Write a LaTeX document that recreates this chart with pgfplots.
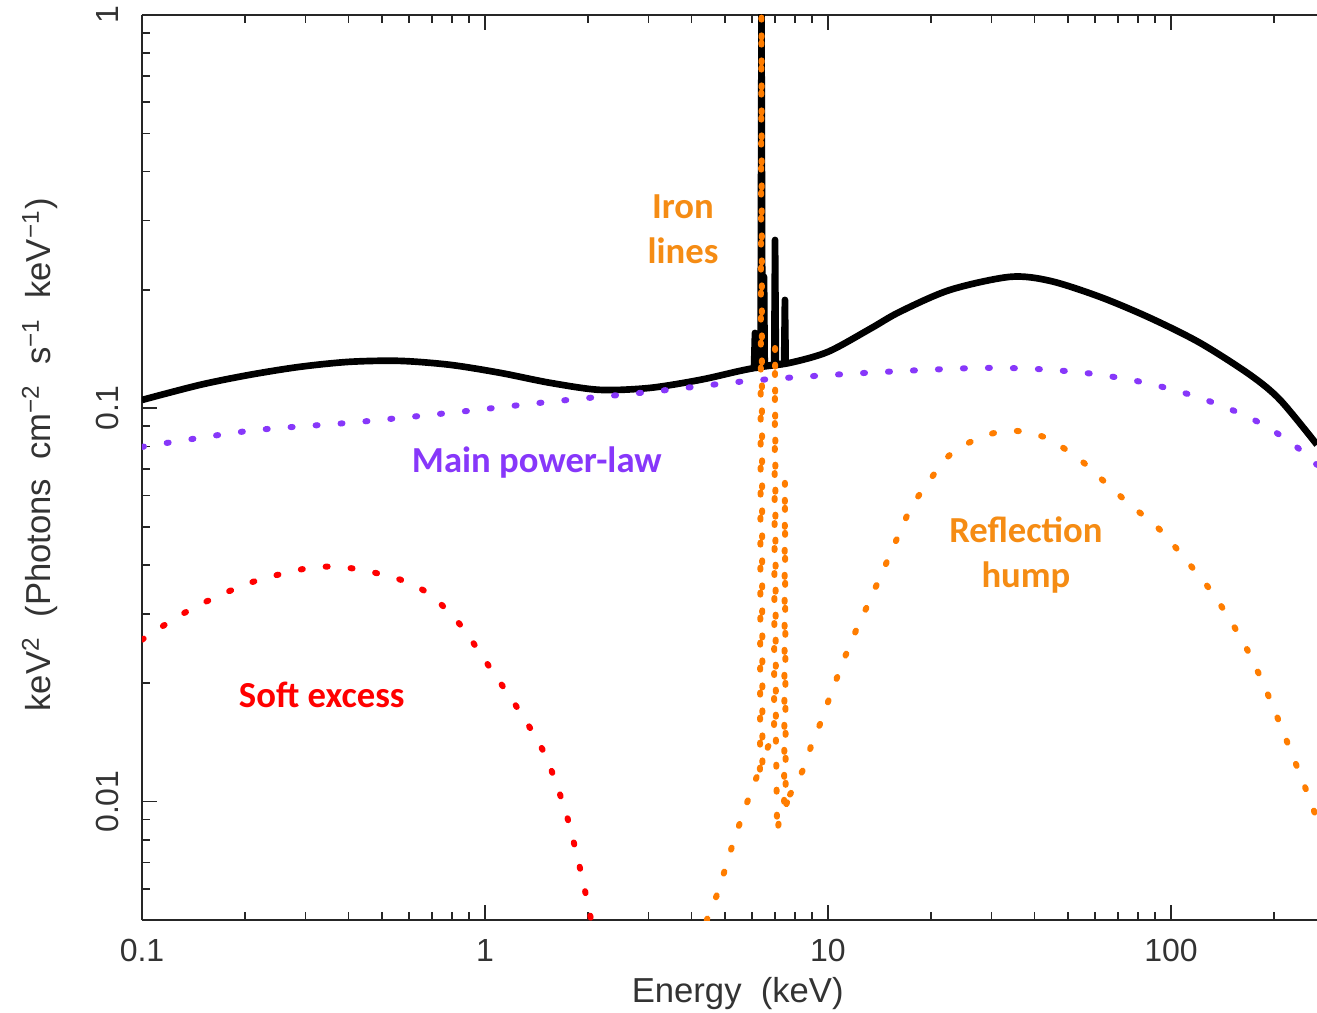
\documentclass[border=0pt]{standalone}
\usepackage{pgfplots}
\pgfplotsset{compat=1.18}
\usepackage{fontspec}
\setmainfont{Liberation Sans}
\newfontfamily\carlito{Carlito}
\definecolor{pl}{RGB}{135,55,250}
\definecolor{rx}{RGB}{255,0,0}
\definecolor{orl}{RGB}{255,125,0}
\definecolor{ort}{RGB}{245,140,20}
\tikzset{dotline/.style={line width=1.8pt, dash pattern=on 0.6pt off 6.9pt, line cap=round}}
\begin{document}
\begin{tikzpicture}
\begin{axis}[name=ax, scale only axis, width=352.5pt, height=271.5pt,
  xmode=log, ymode=log, xmin=0.1, xmax=266.5, ymin=0.005, ymax=1,
  axis x line*=box, axis y line*=left,
  axis line style={line width=0.6pt, black!85},
  tick align=inside, major tick length=4.5pt, minor tick length=2.4pt,
  every tick/.style={black!85, line width=0.5pt},
  xtick={0.1,1,10,100}, xticklabels={0.1,1,10,100},
  minor xtick={0.2,0.3,0.4,0.5,0.6,0.7,0.8,0.9,2,3,4,5,6,7,8,9,20,30,40,50,60,70,80,90,200},
  ytick={0.01,0.1,1}, yticklabels={0.01,0.1,1},
  minor ytick={0.006,0.007,0.008,0.009,0.02,0.03,0.04,0.05,0.06,0.07,0.08,0.09,0.2,0.3,0.4,0.5,0.6,0.7,0.8,0.9},
  tick label style={font=\fontsize{9.6}{11}\selectfont, text=black!80},
  yticklabel style={rotate=90, anchor=south},
  xticklabel shift=2.2pt, yticklabel shift=3.5pt,
  xlabel={Energy\ \ (keV)},
  ylabel={keV\textsuperscript{2}\ \ (Photons\ \ cm\textsuperscript{−2}\ \ s\textsuperscript{−1}\ \ keV\textsuperscript{−1})},
  label style={font=\fontsize{10.4}{12}\selectfont, text=black!80},
  xlabel style={at={(rel axis cs:0.507,-0.0807)}, anchor=center},
  ylabel style={at={(rel axis cs:-0.0868,0.514)}, anchor=center},
]
% total model: continuum
\addplot[black, line width=2pt, smooth, tension=0.5] coordinates {
(0.1,0.1050) (0.1476,0.1147) (0.2065,0.1217) (0.2888,0.1275) (0.4040,0.1313)
(0.5651,0.1320) (0.7907,0.1290) (1.106,0.1231) (1.547,0.1161) (2.164,0.1114)
(3.027,0.1127) (4.235,0.1181) (5.538,0.1245) (6.40,0.1275) (7.748,0.1305)
(10,0.1392) (13.26,0.1592) (16.21,0.1760) (22.68,0.2000) (33.93,0.2159)
(44.39,0.2109) (62.09,0.1920) (86.86,0.1698) (121.5,0.1467) (169.9,0.1217)
(207.9,0.1051) (266.5,0.0808)
};
% total model: lines
\addplot[black, line width=2pt, line join=round] coordinates {
(6.085,0.1267) (6.126,0.1555) (6.167,0.1267) (6.36,0.1275) (6.40,1.0) (6.44,0.1278)
(6.48,0.1280) (6.51,0.2159) (6.54,0.1282) (6.97,0.1290) (7.01,0.268) (7.05,0.1292)
(7.45,0.1300) (7.49,0.1887) (7.53,0.1302)
};
% main power law
\addplot[pl, dotline, smooth, tension=0.5] coordinates {
(0.1,0.0798) (0.2065,0.0877) (0.4040,0.0919) (0.7907,0.0974) (1.547,0.1039)
(3.027,0.1101) (5.925,0.1175) (11.59,0.1224) (22.68,0.1260) (31.73,0.1267)
(44.39,0.1253) (62.09,0.1217) (86.86,0.1154) (121.5,0.1063) (169.9,0.0946)
(222.3,0.0822) (266.5,0.0718)
};
% soft excess
\addplot[rx, dotline, smooth, tension=0.5] coordinates {
(0.1,0.0258) (0.1207,0.0287) (0.1476,0.0317) (0.2065,0.0360) (0.2888,0.0389)
(0.3532,0.0396) (0.4322,0.0389) (0.5651,0.0367) (0.6914,0.0336) (0.8455,0.0282)
(1.034,0.0219) (1.265,0.0169) (1.496,0.01316) (1.711,0.00954) (1.867,0.00712)
(1.997,0.00547) (2.078,0.00459)
};
% reflection: low-energy side
\addplot[orl, dotline, smooth, tension=0.5] coordinates {
(4.235,0.00433) (4.468,0.00510) (4.747,0.00580) (5.009,0.00672) (5.251,0.00769)
(5.538,0.00884) (5.846,0.0101) (6.209,0.0116) (6.335,0.01206)
};
% reflection: iron lines and edge
\addplot[orl, dotline] coordinates {
(6.335,0.01206) (6.40,1.0) (6.44,0.0123) (6.685,0.0138) (6.96,0.0144) (7.01,0.145)
(7.05,0.0144) (7.11,0.00834) (7.247,0.00927) (7.45,0.00971) (7.49,0.0658)
(7.53,0.00975) (7.748,0.01042)
};
% reflection: hump
\addplot[orl, dotline, smooth, tension=0.5] coordinates {
(7.748,0.01042) (8.122,0.0112) (8.57,0.0124) (9.04,0.0143) (9.67,0.0164)
(10.13,0.0185) (11.59,0.0251) (13.26,0.0326) (15.16,0.0424) (17.34,0.0552)
(19.83,0.0658) (22.68,0.0762) (26.83,0.0832) (31.73,0.0872) (37.52,0.0872)
(44.39,0.0832) (54.29,0.0740) (62.09,0.0666) (75.95,0.0569) (92.88,0.0491)
(113.6,0.0400) (129.9,0.0346) (148.6,0.0290) (169.9,0.0236) (194.3,0.0182)
(222.3,0.0136) (254.2,0.0101) (266.5,0.00900)
};
\node[font=\carlito\bfseries\fontsize{11}{13.5}\selectfont, text=pl] at (rel axis cs:0.336,0.505) {Main power-law};
\node[font=\carlito\bfseries\fontsize{11}{13.5}\selectfont, text=rx] at (rel axis cs:0.153,0.2486) {Soft excess};
\node[font=\carlito\bfseries\fontsize{11}{13.5}\selectfont, text=ort, align=center] at (rel axis cs:0.4604,0.7635) {Iron\\lines};
\node[font=\carlito\bfseries\fontsize{11}{13.5}\selectfont, text=ort, align=center] at (rel axis cs:0.7523,0.4033) {Reflection\\hump};
\end{axis}
\pgfresetboundingbox
\path[use as bounding box] ([shift={(-42.6pt,-27.9pt)}]ax.south west) rectangle ([shift={(0pt,4.5pt)}]ax.north east);
\end{tikzpicture}
\end{document}
